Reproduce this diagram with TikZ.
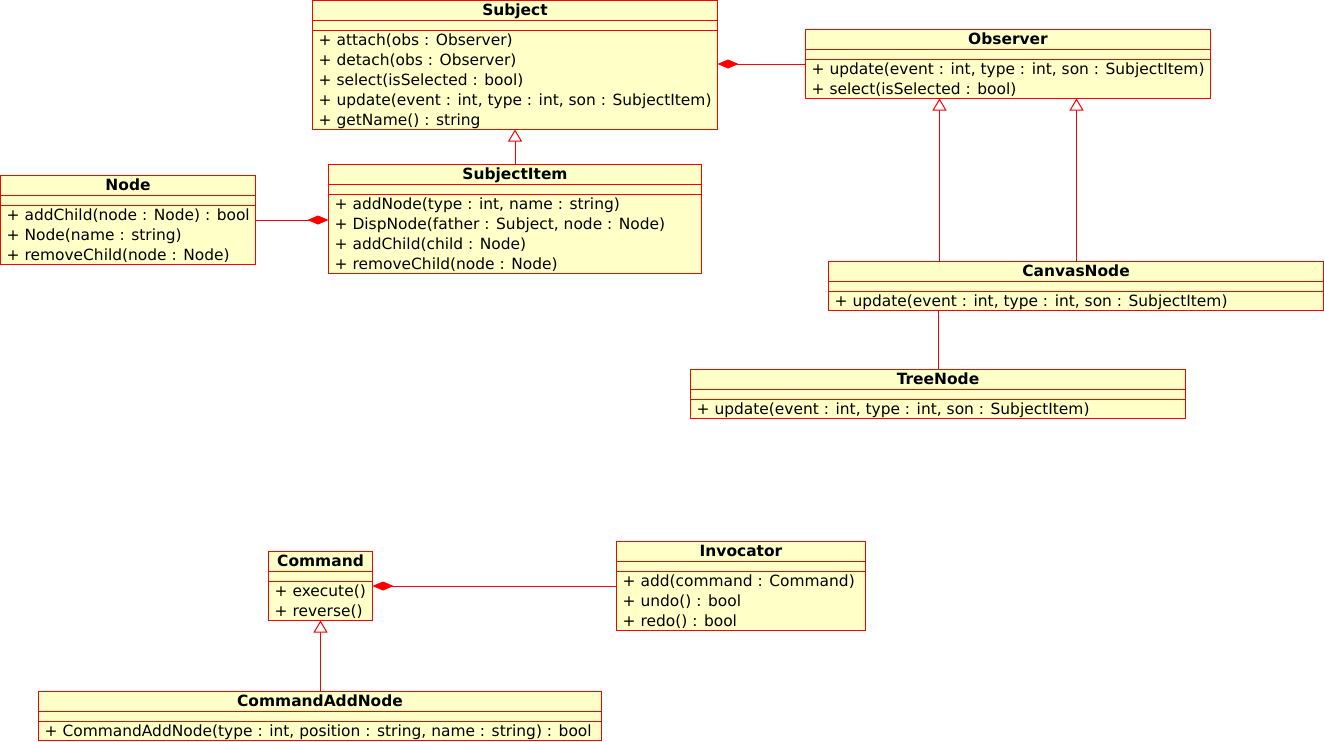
\documentclass[tikz,border=0pt]{standalone}
\usepackage{fontspec}
\setmainfont{DejaVu Sans}
\usetikzlibrary{arrows.meta,calc}
\definecolor{classyellow}{RGB}{255,255,200}

% #1 name, #2 top left corner, #3 width, #4 height, #5 title, #6 operations
\newcommand{\umlclass}[6]{%
  \node[classbox, minimum width=#3bp, minimum height=#4bp] (#1) at (#2) {};
  \node[classtitle] (#1-title) at ($(#1.north)+(0,-15)$) {#5};
  \draw[classline] ($(#1.north west)+(0,-20)$) -- ($(#1.north east)+(0,-20)$);
  \draw[classline] ($(#1.north west)+(0,-30)$) -- ($(#1.north east)+(0,-30)$);
  \foreach \op [count=\i] in {#6}
    \node[classop] (#1-op\i) at ($(#1.north west)+(6,-25-20*\i)$) {\op};
}

\begin{document}
\begin{tikzpicture}[x=1bp, y=1bp, font=\fontsize{15.5}{20}\selectfont]
\tikzset{
    classbox/.style={rectangle, draw=red, fill=classyellow, line width=1bp, anchor=north west, inner sep=0pt, outer sep=0pt},
    classline/.style={red, line width=1bp},
    classtitle/.style={anchor=base, inner sep=0pt, font=\fontsize{15.5}{20}\selectfont\bfseries},
    classop/.style={anchor=base west, inner sep=0pt},
    composition/.style={draw=red, line width=1bp, -{Diamond[length=21bp, width=9bp, red]}},
    inherit/.style={draw=red, line width=1bp, -{Triangle[open, length=12bp, width=14bp, red, fill=white]}}
}
% half a pixel of shift keeps the thin borders sharp
\useasboundingbox (-0.5,0.5) rectangle (1323.5,-740.5);

\umlclass{Subject}{312,0}{405}{129}{Subject}{{+ attach(obs : Observer)}, {+ detach(obs : Observer)}, {+ select(isSelected : bool)}, {+ update(event : int, type : int, son : SubjectItem)}, {+ getName() : string}}
\umlclass{Observer}{805,-29}{405}{69}{Observer}{{+ update(event : int, type : int, son : SubjectItem)}, {+ select(isSelected : bool)}}
\umlclass{Node}{0,-175}{255}{89}{Node}{{+ addChild(node : Node) : bool}, {+ Node(name : string)}, {+ removeChild(node : Node)}}
\umlclass{SubjectItem}{328,-164}{373}{109}{SubjectItem}{{+ addNode(type : int, name : string)}, {+ DispNode(father : Subject, node : Node)}, {+ addChild(child : Node)}, {+ removeChild(node : Node)}}
\umlclass{CanvasNode}{828,-261}{495}{49}{CanvasNode}{{+ update(event : int, type : int, son : SubjectItem)}}
\umlclass{TreeNode}{690,-369}{495}{49}{TreeNode}{{+ update(event : int, type : int, son : SubjectItem)}}
\umlclass{Command}{268,-551}{104}{69}{Command}{{+ execute()}, {+ reverse()}}
\umlclass{Invocator}{616,-541}{249}{89}{Invocator}{{+ add(command : Command)}, {+ undo() : bool}, {+ redo() : bool}}
\umlclass{CommandAddNode}{38,-691}{563}{49}{CommandAddNode}{{+ CommandAddNode(type : int, position : string, name : string) : bool}}

% the two realisations of Observer sit apart on its lower edge
\coordinate (obsleft) at ($(Observer.south)+(-68.5,0)$);
\coordinate (obsright) at ($(Observer.south)+(68.5,0)$);

\draw[composition] (Observer.west) -- (Observer.west -| Subject.east);
\draw[composition] (Node.east) -- (Node.east -| SubjectItem.west);
\draw[composition] (Invocator.west) -- (Invocator.west -| Command.east);
\draw[inherit] (SubjectItem.north) -- (SubjectItem.north |- Subject.south);
\draw[inherit] (obsleft |- CanvasNode.north) -- (obsleft);
\draw[inherit] (obsright |- CanvasNode.north) -- (obsright);
\draw[inherit] (CommandAddNode.north -| Command.south) -- (Command.south);
\draw[classline] (TreeNode.north) -- (TreeNode.north |- CanvasNode.south);

\end{tikzpicture}
\end{document}
